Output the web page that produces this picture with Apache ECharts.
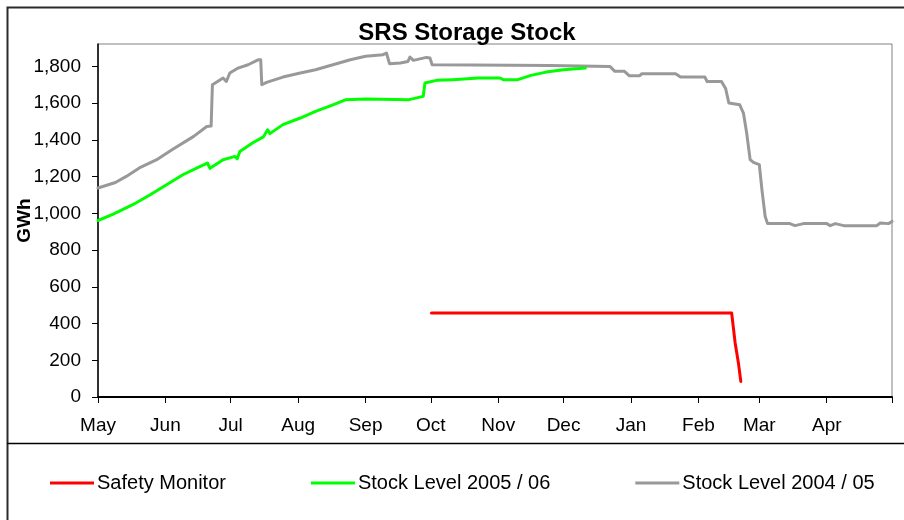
<!DOCTYPE html>
<html>
<head>
<meta charset="utf-8">
<script src="https://cdn.jsdelivr.net/npm/echarts@6/dist/echarts.min.js"></script>
<style>
  html, body { margin: 0; padding: 0; background: #fff; }
  #chart { width: 904px; height: 520px; }
</style>
</head>
<body>
<div id="chart"></div>
<script>
const FONT = "'Liberation Sans', Arial, sans-serif";

// x values are days counted from 1 May
const months = ["May", "Jun", "Jul", "Aug", "Sep", "Oct", "Nov", "Dec", "Jan", "Feb", "Mar", "Apr"];
const monthStarts = [0, 31, 61, 92, 123, 153, 184, 214, 245, 276, 304, 335];
const yearEnd = 365;
const yTicks = [0, 200, 400, 600, 800, 1000, 1200, 1400, 1600, 1800];

const seriesNames = ["Safety Monitor", "Stock Level 2005 / 06", "Stock Level 2004 / 05"];

const safetyMonitor = [
  [153.3, 457], [291.3, 457], [292.9, 294], [294.4, 185], [295.5, 85]
];

const stock0506 = [
  [0, 961], [7, 996], [16, 1047], [24, 1101], [31.5, 1156], [39, 1210], [47, 1256],
  [50.3, 1274], [51.5, 1245], [57.5, 1292], [63, 1310], [64, 1297], [65.2, 1337],
  [71, 1383], [76, 1416], [78, 1455], [79, 1434], [85, 1483], [93, 1519], [100, 1555],
  [108, 1591], [114, 1619], [123, 1622], [143, 1619], [149.5, 1637], [150.3, 1710],
  [155.6, 1724], [163, 1728], [175, 1737], [184.8, 1737], [186.3, 1728], [193, 1728],
  [199, 1751], [206, 1769], [214, 1782], [224, 1791]
];

const stock0405 = [
  [0, 1138], [8, 1168], [13, 1201], [19, 1247], [27, 1292], [34, 1346], [44, 1419],
  [50, 1473], [52, 1475], [52.6, 1700], [57.5, 1737], [59, 1718], [60.6, 1764],
  [64.4, 1791], [69, 1809], [73.6, 1836], [74.8, 1836], [75.3, 1700], [77.5, 1713],
  [85, 1742], [93, 1764], [100, 1782], [108, 1809], [116, 1836], [123, 1855],
  [131, 1864], [132.6, 1873], [133.3, 1873], [134, 1815], [139, 1819], [142.5, 1827],
  [143.4, 1851], [145, 1833], [151, 1849], [152.6, 1846], [153.6, 1809], [207.8, 1805],
  [208.6, 1800], [235.3, 1800], [237.6, 1773], [242, 1773], [244.3, 1749], [248.9, 1749],
  [250, 1760], [265.5, 1760], [267.8, 1742], [279, 1742], [280, 1718], [286.6, 1718],
  [288.5, 1680], [290, 1601], [295, 1591], [296.7, 1546], [298.2, 1437], [299.8, 1292],
  [301.3, 1277], [304, 1265], [305.2, 1129], [306.7, 983], [307.8, 944], [318, 944],
  [320.4, 933], [324.3, 944], [335, 944], [336.6, 933], [339, 944], [342.8, 933],
  [358, 933], [359.6, 947], [363.4, 944], [365, 956]
];

const chart = echarts.init(document.getElementById("chart"), null, { renderer: "canvas" });

function lineSeries(name, data, color, z) {
  return {
    name,
    type: "line",
    data,
    z,
    showSymbol: false,
    symbol: "none",
    smooth: false,
    lineStyle: { color, width: 3, join: "round", cap: "round" },
    itemStyle: { color },
    emphasis: { disabled: true },
  };
}

chart.setOption({
  animation: false,
  textStyle: { fontFamily: FONT },
  title: {
    text: "SRS Storage Stock",
    left: 462,
    textAlign: "center",
    top: 16,
    textStyle: { fontFamily: FONT, fontSize: 24, fontWeight: "bold", color: "#000" },
  },
  grid: {
    left: 98, right: 12, top: 44, bottom: 123,
    show: true, borderColor: "#808080", borderWidth: 1, backgroundColor: "#fff",
  },
  xAxis: {
    type: "value",
    min: 0,
    max: yearEnd,
    axisLine: { show: true, onZero: false, lineStyle: { color: "#000", width: 2 } },
    axisTick: {
      show: true, length: 6, lineStyle: { color: "#000", width: 1 },
      customValues: monthStarts.concat([yearEnd]),
    },
    axisLabel: {
      customValues: monthStarts,
      formatter: (v) => months[monthStarts.indexOf(Math.round(v))] || "",
      color: "#000", fontSize: 19, fontFamily: FONT, margin: 19,
    },
    splitLine: { show: false },
  },
  yAxis: {
    type: "value",
    min: 0,
    max: 1922,
    name: "GWh",
    nameLocation: "middle",
    nameGap: 64,
    nameMoveOverlap: false,
    nameTextStyle: { fontFamily: FONT, fontSize: 19, fontWeight: "bold", color: "#000" },
    axisLine: { show: true, lineStyle: { color: "#000", width: 1.5 } },
    axisTick: {
      show: true, length: 6, lineStyle: { color: "#000", width: 1 },
      customValues: yTicks,
    },
    axisLabel: {
      customValues: yTicks,
      formatter: (v) => v.toLocaleString("en-US"),
      color: "#000", fontSize: 19, fontFamily: FONT, margin: 17,
    },
    splitLine: { show: false },
  },
  legend: {
    left: 45,
    top: 468,
    icon: "rect",
    itemWidth: 44,
    itemHeight: 3,
    itemGap: 85,
    data: seriesNames,
    textStyle: { fontFamily: FONT, fontSize: 20, color: "#000", padding: [0, 0, 0, -2] },
    selectedMode: false,
  },
  graphic: [
    {
      type: "rect",
      silent: true,
      z: -10,
      shape: { x: 7.5, y: 7.5, width: 920, height: 540 },
      style: { fill: null, stroke: "#2b2b2b", lineWidth: 2 },
    },
    {
      type: "line",
      silent: true,
      shape: { x1: 7, y1: 443.5, x2: 904, y2: 443.5 },
      style: { stroke: "#000", lineWidth: 1.5 },
    },
  ],
  series: [
    lineSeries(seriesNames[0], safetyMonitor, "#ff0000", 4),
    lineSeries(seriesNames[1], stock0506, "#00ff00", 3),
    lineSeries(seriesNames[2], stock0405, "#999999", 2),
  ],
});
</script>
</body>
</html>
